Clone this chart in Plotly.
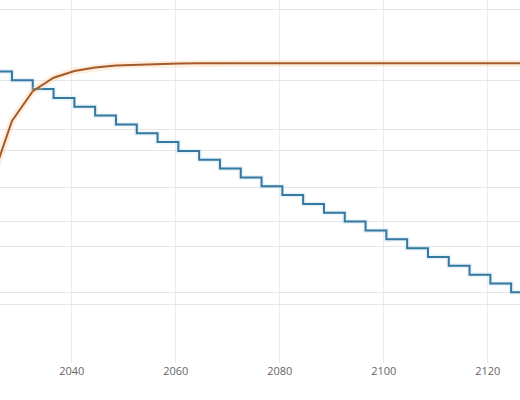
import plotly.graph_objects as go

# Blue step series (left axis), one level every 4 years
blue_years = [2024.5, 2028.5, 2032.5, 2036.5, 2040.5, 2044.5, 2048.5, 2052.5,
              2056.5, 2060.5, 2064.5, 2068.5, 2072.5, 2076.5, 2080.5, 2084.5,
              2088.5, 2092.5, 2096.5, 2100.5, 2104.5, 2108.5, 2112.5, 2116.5,
              2120.5, 2124.5, 2128.5]
blue_values = [8.25, 8.0, 7.75, 7.5, 7.25, 7.0, 6.75, 6.5, 6.25, 6.0, 5.75,
               5.5, 5.25, 5.0, 4.75, 4.5, 4.25, 4.0, 3.75, 3.5, 3.25, 3.0,
               2.75, 2.5, 2.25, 2.0, 2.0]

# Orange saturating series (right axis)
orange_years = [2024.5, 2028.5, 2032.5, 2036.5, 2040.5, 2044.5, 2048.5,
                2052.5, 2056.5, 2060.5, 2064.5, 2068.5, 2072.5, 2076.5,
                2080.5, 2084.5, 2088.5, 2092.5, 2096.5, 2100.5, 2104.5,
                2108.5, 2112.5, 2116.5, 2120.5, 2124.5, 2128.5]
orange_values = [62.0, 82.8, 93.0, 97.6, 99.9, 101.1, 101.8, 102.1, 102.3,
                 102.5, 102.6, 102.6, 102.6, 102.6, 102.6, 102.6, 102.6,
                 102.6, 102.6, 102.6, 102.6, 102.6, 102.6, 102.6, 102.6,
                 102.6, 102.6]

x_ticks = [2040, 2060, 2080, 2100, 2120]
left_grid = [0, 2, 4, 6, 8, 10]
right_grid = [0, 20, 40, 60, 80]

BLUE = "#33789f"
ORANGE = "#a55b28"

fig = go.Figure()
fig.add_trace(go.Scatter(x=blue_years, y=blue_values, mode="lines",
                         line=dict(color="rgba(140,190,225,0.18)", width=5, shape="hv"),
                         hoverinfo="skip", showlegend=False))
fig.add_trace(go.Scatter(x=blue_years, y=blue_values, mode="lines",
                         line=dict(color=BLUE, width=2, shape="hv"),
                         showlegend=False))
fig.add_trace(go.Scatter(x=orange_years, y=orange_values, mode="lines",
                         line=dict(color="rgba(253,200,150,0.3)", width=7),
                         yaxis="y2", hoverinfo="skip", showlegend=False))
fig.add_trace(go.Scatter(x=orange_years, y=orange_values, mode="lines",
                         line=dict(color=ORANGE, width=2),
                         yaxis="y2", showlegend=False))

fig.update_layout(
    width=520, height=400,
    margin=dict(l=0, r=0, t=0, b=37),
    paper_bgcolor="white", plot_bgcolor="white",
    font=dict(family="Open Sans", size=11, color="#666666"),
    xaxis=dict(range=[2026.2, 2126.2], tickvals=x_ticks, showgrid=True,
               gridcolor="#ebebeb", zeroline=False, showline=False,
               ticks="", tickfont=dict(size=11, color="#666666")),
    yaxis=dict(range=[0, 10.27], tickvals=left_grid, showgrid=True,
               gridcolor="#e6e6e6", zeroline=False, showticklabels=False,
               ticks=""),
    yaxis2=dict(range=[0, 124.2], tickvals=right_grid, showgrid=True,
                gridcolor="#e6e6e6", zeroline=False, showticklabels=False,
                ticks="", overlaying="y", side="right"),
)

fig.write_html("out.html",
               config={"displayModeBar": False},
               post_script="document.body.style.margin='0';document.body.style.overflow='hidden';")
